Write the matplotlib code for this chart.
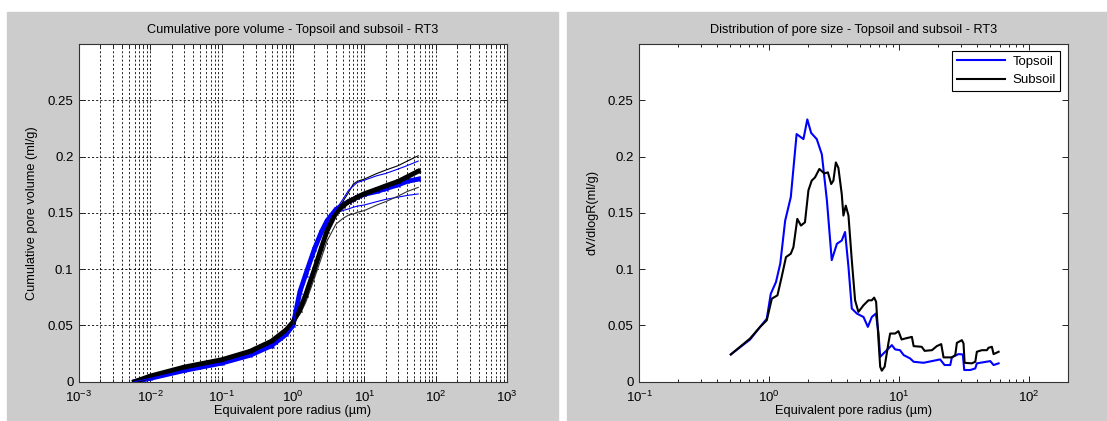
import matplotlib
matplotlib.use("Agg")
import matplotlib.pyplot as plt
from matplotlib.patches import Rectangle
from matplotlib.ticker import LogLocator, FixedLocator, FormatStrFormatter, NullFormatter

plt.rcParams['font.family'] = ['Liberation Sans', 'DejaVu Sans']
plt.rcParams['font.size'] = 9

# ---------------- Left: cumulative pore volume ----------------
r_cum = [0.006, 0.01, 0.03, 0.1, 0.25, 0.5, 0.8, 1.0, 1.25, 1.5, 2.0, 2.5, 3.0,
         4.0, 5.0, 6.0, 7.0, 8.0, 10, 15, 20, 30, 40, 57]
cum_top_mean = [0.0, 0.003, 0.010, 0.0165, 0.0235, 0.032, 0.042, 0.050, 0.080, 0.095,
                0.118, 0.133, 0.143, 0.153, 0.157, 0.160, 0.162, 0.164, 0.1665, 0.169,
                0.1715, 0.175, 0.178, 0.180]
cum_sub_mean = [0.0, 0.005, 0.013, 0.0195, 0.027, 0.036, 0.046, 0.053, 0.064, 0.077,
                0.100, 0.119, 0.134, 0.150, 0.156, 0.160, 0.162, 0.164, 0.167, 0.171,
                0.174, 0.178, 0.182, 0.187]
cum_sub_high = [0.0, 0.005, 0.013, 0.0195, 0.027, 0.036, 0.046, 0.053, 0.064, 0.077,
                0.100, 0.119, 0.134, 0.150, 0.160, 0.168, 0.1756, 0.178, 0.180, 0.185,
                0.188, 0.192, 0.196, 0.2007]
cum_top_high = [0.0, 0.003, 0.010, 0.0165, 0.0235, 0.032, 0.042, 0.050, 0.080, 0.095,
                0.118, 0.133, 0.143, 0.153, 0.162, 0.170, 0.174, 0.177, 0.179, 0.183,
                0.185, 0.189, 0.192, 0.196]
cum_top_low = [0.0, 0.003, 0.010, 0.0165, 0.0235, 0.032, 0.042, 0.050, 0.078, 0.093,
               0.115, 0.130, 0.140, 0.150, 0.152, 0.1535, 0.155, 0.156, 0.157, 0.160,
               0.162, 0.164, 0.1655, 0.1668]
cum_sub_low = [0.0, 0.005, 0.013, 0.0195, 0.027, 0.036, 0.046, 0.052, 0.060, 0.070,
               0.092, 0.110, 0.125, 0.140, 0.145, 0.148, 0.149, 0.1505, 0.152, 0.157,
               0.160, 0.165, 0.169, 0.1726]

# ---------------- Right: pore size distribution ----------------
r_top = [0.507, 0.714, 0.853, 0.96, 1.03, 1.13, 1.22, 1.33, 1.47, 1.63, 1.84, 1.97,
         2.11, 2.33, 2.55, 2.79, 3.04, 3.33, 3.63, 3.85, 4.09, 4.34, 4.75, 5.34, 5.77,
         6.19, 6.65, 6.97, 7.18, 7.6, 8.83, 9.36, 10.2, 10.9, 12.2, 13.0, 15.5, 18.5,
         20.8, 22.5, 24.9, 25.6, 28.8, 31.1, 31.9, 35.5, 38.8, 39.9, 50.6, 53.7, 58.7]
dv_top = [0.0242, 0.0375, 0.0487, 0.056, 0.078, 0.0885, 0.105, 0.143, 0.164, 0.220,
          0.2155, 0.233, 0.221, 0.2155, 0.202, 0.161, 0.108, 0.1225, 0.1254, 0.133,
          0.102, 0.065, 0.0605, 0.0575, 0.0487, 0.0575, 0.0605, 0.043, 0.022, 0.025,
          0.0325, 0.0287, 0.028, 0.0236, 0.0207, 0.0177, 0.0168, 0.0186, 0.0198, 0.0148,
          0.0148, 0.0216, 0.0245, 0.0242, 0.0104, 0.0104, 0.0118, 0.0163, 0.0183,
          0.0148, 0.0163]

r_sub = [0.507, 0.714, 0.853, 0.96, 1.05, 1.16, 1.25, 1.35, 1.47, 1.54, 1.65, 1.76,
         1.89, 2.01, 2.13, 2.26, 2.44, 2.66, 2.84, 3.01, 3.13, 3.27, 3.42, 3.63, 3.74,
         3.9, 4.09, 4.34, 4.6, 4.88, 5.34, 5.83, 6.19, 6.45, 6.68, 6.97, 7.18, 7.39,
         7.77, 8.3, 8.57, 9.36, 9.93, 10.5, 11.2, 12.6, 13.0, 15.0, 15.8, 18.0, 19.6,
         21.2, 22.1, 25.6, 27.2, 28.0, 30.6, 31.5, 32.1, 36.5, 38.8, 39.9, 43.6, 47.7,
         49.0, 52.1, 53.7, 58.7]
dv_sub = [0.0242, 0.0384, 0.0487, 0.0546, 0.0738, 0.0767, 0.093, 0.1107, 0.1137,
          0.1195, 0.1447, 0.1387, 0.1416, 0.170, 0.1786, 0.1815, 0.189, 0.185, 0.186,
          0.1756, 0.1786, 0.1948, 0.190, 0.1668, 0.1476, 0.1564, 0.1476, 0.1077, 0.0723,
          0.062, 0.0679, 0.0723, 0.0723, 0.0747, 0.071, 0.0369, 0.0133, 0.0098, 0.0133,
          0.034, 0.0428, 0.0428, 0.0449, 0.0375, 0.0384, 0.0398, 0.0316, 0.031, 0.0274,
          0.028, 0.0316, 0.0334, 0.0216, 0.0216, 0.0236, 0.0345, 0.0369, 0.034, 0.0168,
          0.0163, 0.0177, 0.0266, 0.028, 0.028, 0.0301, 0.031, 0.0245, 0.0266]

y_ticks = [0, 0.05, 0.1, 0.15, 0.2, 0.25]

W, H = 1107, 421
fig = plt.figure(figsize=(W / 100, H / 100), dpi=100, facecolor='white')
gray = '#cccccc'
fig.patches.append(Rectangle((7 / W, 0), (558 - 7) / W, (H - 12) / H,
                             transform=fig.transFigure, color=gray, zorder=-10))
fig.patches.append(Rectangle((567 / W, 0), (W - 567) / W, (H - 12) / H,
                             transform=fig.transFigure, color=gray, zorder=-10))

ax_b = (H - 381.7) / H
ax_h = (381.7 - 44) / H
ax1 = fig.add_axes([79 / W, ax_b, 428 / W, ax_h])
ax2 = fig.add_axes([639.3 / W, ax_b, 428.4 / W, ax_h])

TXT = 9.2
TICK = 9.5


def style(ax):
    ax.set_xscale('log')
    ax.set_ylim(0, 0.3)
    ax.yaxis.set_major_locator(FixedLocator(y_ticks))
    ax.yaxis.set_major_formatter(FormatStrFormatter('%g'))
    ax.xaxis.set_major_locator(LogLocator(base=10, numticks=12))
    ax.xaxis.set_minor_locator(LogLocator(base=10, subs=range(2, 10), numticks=12))
    ax.xaxis.set_minor_formatter(NullFormatter())
    ax.tick_params(which='both', direction='in', top=True, right=True,
                   labelsize=TICK, width=0.7, colors='#222222', labelcolor='black')
    ax.tick_params(which='major', length=4)
    ax.tick_params(which='minor', length=2.5)
    ax.tick_params(axis='x', which='major', pad=6)
    ax.tick_params(axis='y', which='major', pad=4)
    for s in ax.spines.values():
        s.set_linewidth(0.8)
        s.set_color('#333333')


# Left plot
style(ax1)
ax1.set_xlim(1e-3, 1e3)
ax1.grid(True, which='major', axis='both', color='black', linestyle=(0, (2.5, 2.5)), linewidth=0.6)
ax1.grid(True, which='minor', axis='x', color='black', linestyle=(0, (2.5, 2.5)), linewidth=0.6)
ax1.set_axisbelow(True)
ax1.plot(r_cum, cum_top_low, color='#0000ff', lw=0.8)
ax1.plot(r_cum, cum_sub_low, color='#333333', lw=0.8)
ax1.plot(r_cum, cum_top_mean, color='#0000ff', lw=3.5, marker='x', ms=3)
ax1.plot(r_cum, cum_sub_mean, color='black', lw=3.5, marker='x', ms=3)
ax1.plot(r_cum, cum_sub_high, color='black', lw=0.8)
ax1.plot(r_cum, cum_top_high, color='#0000ff', lw=0.8)
ax1.set_title('Cumulative pore volume - Topsoil and subsoil - RT3', fontsize=TXT, pad=8)
ax1.set_xlabel('Equivalent pore radius (\u00b5m)', fontsize=TXT, labelpad=0)
ax1.set_ylabel('Cumulative pore volume (ml/g)', fontsize=TXT, labelpad=7)

# Right plot
style(ax2)
ax2.set_xlim(0.1, 200)
ax2.plot(r_top, dv_top, color='#0000ff', lw=1.5, label='Topsoil')
ax2.plot(r_sub, dv_sub, color='black', lw=1.5, label='Subsoil')
ax2.set_title('Distribution of pore size - Topsoil and subsoil - RT3', fontsize=TXT, pad=8)
ax2.set_xlabel('Equivalent pore radius (\u00b5m)', fontsize=TXT, labelpad=0)
ax2.set_ylabel('dV/dlogR(ml/g)', fontsize=TXT, labelpad=7)
leg = ax2.legend(loc='upper right', fontsize=9.5, handlelength=3.6, fancybox=False,
                 edgecolor='black', framealpha=1, borderaxespad=0.55,
                 borderpad=0.35, labelspacing=0.45, handletextpad=0.6)
leg.get_frame().set_linewidth(0.8)

fig.savefig('out.png', dpi=100, facecolor='white')
